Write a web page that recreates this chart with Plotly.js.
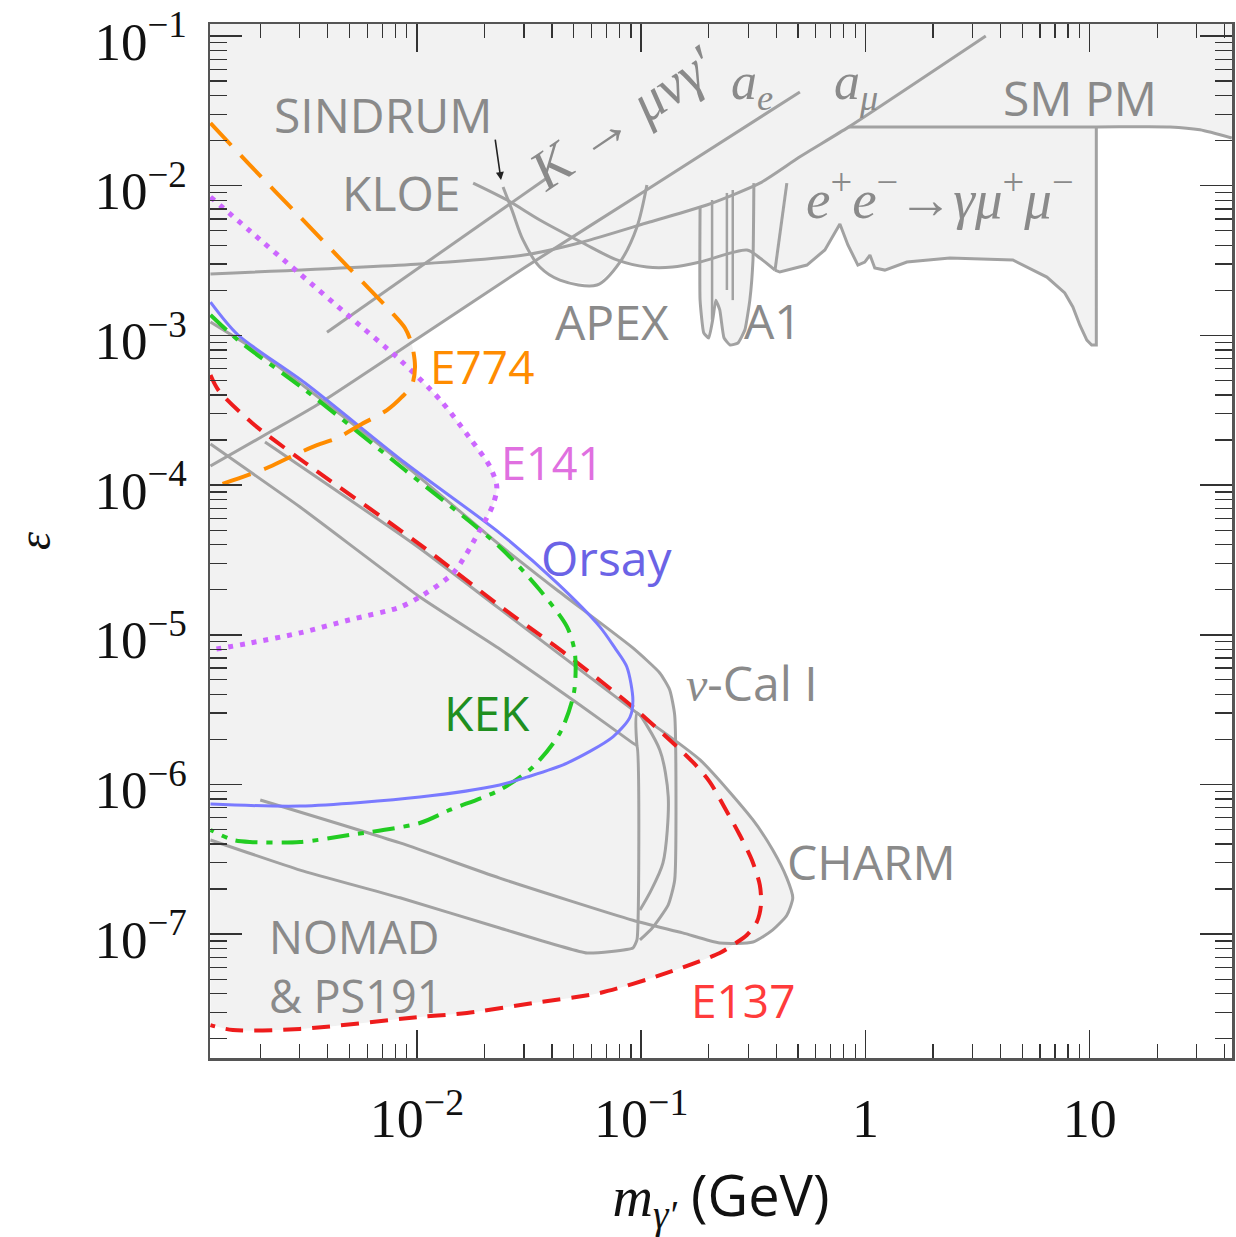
<!DOCTYPE html>
<html><head><meta charset="utf-8">
<script src="https://cdn.plot.ly/plotly-3.0.1.min.js"></script>
<style>html,body{margin:0;padding:0;background:#fff}#chart{width:1236px;height:1237px}</style>
</head><body><div id="chart"></div>
<script>
// ---------------- data (mass in GeV, epsilon) ----------------
const aeM   = [0.0012, 2.21e-3, 3.58e-3, 1.03e-2, 3.00e-2, 0.109, 0.510];
const aeEps = [1.34e-4, 2.26e-4, 3.43e-4, 9.75e-4, 2.82e-3, 9.65e-3, 4.23e-2];

const kmuM   = [3.97e-3, 3.84e-2];
const kmuEps = [1.05e-3, 1.14e-2];

const amuM   = [0.0012, 1.03e-2, 3.00e-2, 5.50e-2, 0.109, 0.196, 0.338, 0.510, 0.843, 3.44];
const amuEps = [2.57e-3, 3.00e-3, 3.44e-3, 4.21e-3, 5.72e-3, 7.43e-3, 1.04e-2, 1.56e-2, 2.47e-2, 0.1];

const kloeM   = [1.78e-2, 2.52e-2, 3.53e-2, 5.50e-2, 7.79e-2, 0.106, 0.138, 0.183, 0.296, 0.338, 0.395];
const kloeEps = [1.04e-2, 8.02e-3, 5.90e-3, 4.14e-3, 3.19e-3, 2.86e-3, 2.86e-3, 3.09e-3, 3.72e-3, 3.29e-3, 2.73e-3];

const babarM   = [0.395, 0.415, 0.548, 0.659, 0.769, 0.835, 0.925, 0.993, 1.047, 1.10, 1.22, 1.53, 2.38, 4.54, 6.44, 7.74, 8.41, 9.04, 9.71, 10.2, 10.7, 10.7];
const babarEps = [2.73e-3, 2.65e-3, 2.95e-3, 3.72e-3, 5.55e-3, 4.02e-3, 2.95e-3, 3.09e-3, 3.44e-3, 2.82e-3, 2.73e-3, 3.09e-3, 3.29e-3, 3.19e-3, 2.45e-3, 1.92e-3, 1.55e-3, 1.17e-3, 9.31e-4, 8.63e-4, 8.63e-4, 2.47e-2];
const babarEdgeM   = [0.395, 0.446];
const babarEdgeEps = [2.73e-3, 1.04e-2];

const smpmM   = [0.843, 10.7, 22.8, 31.0, 43.0];
const smpmEps = [2.47e-2, 2.47e-2, 2.47e-2, 2.36e-2, 2.08e-2];

const apexM   = [2.42e-2, 2.65e-2, 2.97e-2, 3.53e-2, 4.34e-2, 6.35e-2, 8.04e-2, 9.57e-2, 0.106];
const apexEps = [9.80e-3, 6.89e-3, 4.34e-3, 2.86e-3, 2.34e-3, 2.17e-3, 3.09e-3, 5.30e-3, 1.01e-2];

const a1M   = [0.183, 0.183, 0.190, 0.200, 0.209, 0.215, 0.224, 0.234, 0.249, 0.270, 0.290, 0.305, 0.315, 0.318];
const a1Eps = [7.21e-3, 1.72e-3, 1.04e-3, 9.61e-4, 1.31e-3, 1.72e-3, 1.48e-3, 9.61e-4, 8.63e-4, 8.90e-4, 1.09e-3, 1.72e-3, 3.19e-3, 1.04e-2];
const a1InnerM   = [0.207, 0.207, null, 0.241, 0.241, null, 0.256, 0.256];
const a1InnerEps = [8.02e-3, 1.27e-3, null, 8.94e-3, 2.01e-3, null, 9.36e-3, 1.72e-3];

// lower edge of the shaded region at the top of the plot
const upperEdgeM   = [0.0012, 2.21e-3, 3.58e-3, 1.03e-2, 3.00e-2, 3.39e-2, 3.53e-2, 4.34e-2, 6.35e-2, 8.04e-2, 0.106, 0.138, 0.183, 0.183, 0.190, 0.200, 0.209, 0.215, 0.224, 0.234, 0.249, 0.270, 0.290, 0.305, 0.3115, 0.338, 0.395, 0.415, 0.548, 0.659, 0.769, 0.835, 0.925, 0.993, 1.047, 1.10, 1.22, 1.53, 2.38, 4.54, 6.44, 7.74, 8.41, 9.04, 9.71, 10.2, 10.7, 10.7, 22.8, 31.0, 43.0];
const upperEdgeEps = [1.34e-4, 2.26e-4, 3.43e-4, 9.75e-4, 2.82e-3, 3.14e-3, 2.86e-3, 2.34e-3, 2.17e-3, 3.09e-3, 2.86e-3, 2.86e-3, 3.09e-3, 1.72e-3, 1.04e-3, 9.61e-4, 1.31e-3, 1.72e-3, 1.48e-3, 9.61e-4, 8.63e-4, 8.90e-4, 1.09e-3, 1.72e-3, 3.61e-3, 3.29e-3, 2.73e-3, 2.65e-3, 2.95e-3, 3.72e-3, 5.55e-3, 4.02e-3, 2.95e-3, 3.09e-3, 3.44e-3, 2.82e-3, 2.73e-3, 3.09e-3, 3.29e-3, 3.19e-3, 2.45e-3, 1.92e-3, 1.55e-3, 1.17e-3, 9.31e-4, 8.63e-4, 8.63e-4, 2.47e-2, 2.47e-2, 2.36e-2, 2.08e-2];

const e774M   = [0.0012, 1.80e-3, 3.01e-3, 5.02e-3, 7.59e-3, 8.84e-3, 9.50e-3, 9.80e-3, 9.50e-3, 8.57e-3, 7.35e-3, 5.57e-3, 4.40e-3, 3.58e-3, 2.72e-3, 2.14e-3, 1.77e-3, 0.0012];
const e774Eps = [2.62e-2, 1.37e-2, 6.18e-3, 2.78e-3, 1.46e-3, 1.12e-3, 8.63e-4, 6.15e-4, 4.67e-4, 3.88e-4, 3.17e-4, 2.52e-4, 2.06e-4, 1.85e-4, 1.54e-4, 1.30e-4, 1.17e-4, 9.57e-5];

const e141M   = [0.0012, 1.80e-3, 3.01e-3, 5.02e-3, 8.40e-3, 1.27e-2, 1.72e-2, 2.12e-2, 2.27e-2, 2.18e-2, 1.91e-2, 1.45e-2, 1.03e-2, 8.40e-3, 5.02e-3, 3.01e-3, 1.80e-3, 0.0012];
const e141Eps = [8.40e-3, 4.98e-3, 2.57e-3, 1.33e-3, 6.85e-4, 3.70e-4, 2.06e-4, 1.32e-4, 9.71e-5, 7.36e-5, 5.01e-5, 2.59e-5, 1.79e-5, 1.53e-5, 1.26e-5, 1.03e-5, 8.81e-6, 7.91e-6];

const orsayM   = [0.0012, 1.59e-3, 3.17e-3, 8.84e-3, 2.34e-2, 4.21e-2, 6.54e-2, 7.63e-2, 8.63e-2, 9.18e-2, 8.91e-2, 7.48e-2, 4.67e-2, 3.09e-2, 2.34e-2, 1.03e-2, 3.01e-3, 0.0012];
const orsayEps = [1.67e-3, 1.01e-3, 4.81e-4, 1.41e-4, 4.78e-5, 2.22e-5, 1.13e-5, 8.17e-6, 6.10e-6, 3.67e-6, 2.82e-6, 2.08e-6, 1.39e-6, 1.12e-6, 9.93e-7, 8.25e-7, 7.18e-7, 7.41e-7];

const kekM   = [0.0012, 1.59e-3, 3.17e-3, 8.84e-3, 2.34e-2, 3.53e-2, 4.67e-2, 5.06e-2, 5.01e-2, 4.34e-2, 3.29e-2, 2.34e-2, 1.40e-2, 1.03e-2, 5.02e-3, 3.01e-3, 1.80e-3, 1.51e-3, 0.0012];
const kekEps = [1.37e-3, 9.31e-4, 4.32e-4, 1.26e-4, 3.86e-5, 1.99e-5, 1.13e-5, 7.56e-6, 4.09e-6, 2.21e-6, 1.31e-6, 9.19e-7, 6.76e-7, 5.53e-7, 4.60e-7, 4.13e-7, 4.13e-7, 4.26e-7, 4.97e-7];

const e137M   = [0.0012, 1.30e-3, 1.84e-3, 3.17e-3, 1.01e-2, 2.34e-2, 3.53e-2, 4.67e-2, 9.18e-2, 0.170, 0.202, 0.236, 0.275, 0.3115, 0.338, 0.342, 0.328, 0.296, 0.256, 0.224, 0.130, 6.54e-2, 3.29e-2, 1.67e-2, 1.03e-2, 3.01e-3, 1.51e-3, 0.0012];
const e137Eps = [5.44e-4, 4.32e-4, 2.60e-4, 1.41e-4, 4.10e-5, 1.56e-5, 9.97e-6, 7.33e-6, 3.29e-6, 1.41e-6, 1.04e-6, 6.97e-7, 4.60e-7, 3.13e-7, 2.13e-7, 1.57e-7, 1.21e-7, 9.88e-8, 8.47e-8, 7.49e-8, 5.51e-8, 4.05e-8, 3.47e-8, 2.98e-8, 2.80e-8, 2.33e-8, 2.29e-8, 2.47e-8];

const nucalM   = [0.0012, 2.00e-3, 3.17e-3, 8.84e-3, 2.34e-2, 4.21e-2, 9.18e-2, 0.121, 0.134, 0.141, 0.141, 0.132, 0.112, 9.87e-2];
const nucalEps = [1.23e-3, 7.63e-4, 4.52e-4, 1.36e-4, 3.98e-5, 1.99e-5, 8.17e-6, 5.56e-6, 4.28e-6, 2.91e-6, 2.30e-7, 1.57e-7, 1.10e-7, 9.15e-8];

const charmM   = [2.10e-3, 1.01e-2, 2.34e-2, 9.18e-2, 0.183, 0.315, 0.386, 0.446, 0.474, 0.446, 0.386, 0.315, 0.224, 0.153, 9.18e-2, 2.34e-2, 8.40e-3, 2.00e-3];
const charmEps = [1.94e-4, 3.86e-5, 1.49e-5, 3.15e-6, 1.46e-6, 5.80e-7, 3.65e-7, 2.37e-7, 1.75e-7, 1.34e-7, 1.07e-7, 8.87e-8, 8.73e-8, 1.02e-7, 1.24e-7, 2.37e-7, 4.07e-7, 7.88e-7];

const nomadM   = [0.0012, 3.01e-3, 1.03e-2, 2.34e-2, 5.33e-2, 9.18e-2, 9.57e-2, 9.57e-2, 9.18e-2, 5.73e-2, 2.34e-2, 8.40e-3, 3.01e-3, 0.0012];
const nomadEps = [1.88e-4, 7.14e-5, 1.79e-5, 8.04e-6, 3.40e-6, 1.89e-6, 1.81e-6, 9.15e-8, 8.09e-8, 7.49e-8, 1.10e-7, 1.75e-7, 2.68e-7, 4.26e-7];

const innerM   = [9.57e-2, 9.57e-2, 0.121, 0.132, 0.125, 0.109, 9.87e-2];
const innerEps = [1.81e-6, 3.00e-6, 1.70e-6, 8.25e-7, 2.99e-7, 1.88e-7, 1.45e-7];

const xTickVals = [0.01, 0.1, 1, 10];
const xTickText = ['10<sup>\u22122</sup>', '10<sup>\u22121</sup>', '1', '10'];
const yTickVals = [1e-7, 1e-6, 1e-5, 1e-4, 1e-3, 1e-2, 1e-1];
const yTickText = ['10<sup>\u22127</sup>', '10<sup>\u22126</sup>', '10<sup>\u22125</sup>', '10<sup>\u22124</sup>', '10<sup>\u22123</sup>', '10<sup>\u22122</sup>', '10<sup>\u22121</sup>'];

// ---------------- styling / building ----------------
const GRAY = '#a2a2a2', SHADE = '#f2f2f2', TXT = '#8a8a8a';
const xRange = [Math.log10(0.001194), Math.log10(43.1)];
const yRange = [-7.827, -0.920];
const xMin = Math.pow(10, xRange[0]), xMax = Math.pow(10, xRange[1]), yTop = Math.pow(10, yRange[1]);

function fillT(m, e, smooth) {
  return {x: m, y: e, mode: 'none', fill: 'toself', fillcolor: SHADE, hoverinfo: 'skip', showlegend: false,
          line: smooth ? {shape: 'spline', smoothing: smooth} : {shape: 'linear'}};
}
function lineT(m, e, color, width, dash, smooth) {
  return {x: m, y: e, mode: 'lines', connectgaps: false, hoverinfo: 'skip', showlegend: false,
          line: {color: color, width: width, dash: dash || 'solid', shape: smooth ? 'spline' : 'linear', smoothing: smooth || 0}};
}

const traces = [
  fillT([xMin].concat(upperEdgeM, [xMax]), [yTop].concat(upperEdgeEps, [yTop])),
  fillT(e774M, e774Eps, 0.8), fillT(e141M, e141Eps, 0.8), fillT(orsayM, orsayEps, 0.8), fillT(kekM, kekEps, 0.8),
  fillT(e137M, e137Eps, 0.8), fillT(nucalM, nucalEps, 0.5), fillT(charmM, charmEps, 0.6), fillT(nomadM, nomadEps, 0.4),
  lineT(aeM, aeEps, GRAY, 3, 'solid', 0.6), lineT(kmuM, kmuEps, GRAY, 3), lineT(amuM, amuEps, GRAY, 3, 'solid', 0.6),
  lineT(kloeM, kloeEps, GRAY, 3, 'solid', 0.8), lineT(babarM, babarEps, GRAY, 3), lineT(babarEdgeM, babarEdgeEps, GRAY, 3),
  lineT(smpmM, smpmEps, GRAY, 3, 'solid', 0.6), lineT(apexM, apexEps, GRAY, 3, 'solid', 0.9), lineT(a1M, a1Eps, GRAY, 3, 'solid', 0.4),
  lineT(a1InnerM, a1InnerEps, GRAY, 2.5),
  lineT(nucalM, nucalEps, GRAY, 3, 'solid', 0.5), lineT(charmM, charmEps, GRAY, 3, 'solid', 0.6), lineT(nomadM, nomadEps, GRAY, 3, 'solid', 0.4),
  lineT(innerM, innerEps, GRAY, 3, 'solid', 0.8),
  lineT(e137M, e137Eps, '#ee1c1c', 4, '18px,11px', 0.8),
  lineT(kekM, kekEps, '#22cc22', 4, '22px,9px,6px,9px', 0.8),
  lineT(orsayM, orsayEps, '#7a7aff', 3, 'solid', 0.8),
  lineT(e141M, e141Eps, '#cc66ff', 5, '5px,7px', 0.8),
  lineT(e774M, e774Eps, '#ff8c00', 4, '30px,14px', 0.8)
];

const SANS = 'Open Sans, Noto Sans, sans-serif';
const SERIF = 'Liberation Serif, DejaVu Serif, serif';
function lab(text, xp, yp, color, opts) {
  opts = opts || {};
  return {text: text, xref: 'paper', yref: 'paper', x: xp, y: yp, showarrow: false,
    xanchor: opts.xanchor || 'center', yanchor: 'middle', align: opts.xanchor || 'center', textangle: opts.angle || 0,
    font: {family: opts.serif ? SERIF : SANS, size: opts.size || 48, color: color}};
}
const annotations = [
  lab('SINDRUM', 0.1693, 0.9120, TXT),
  lab('KLOE', 0.1869, 0.8375, TXT),
  lab('<i>K</i> \u2192 <i>\u03bc\u03bd\u03b3\u2032</i>', 0.4031, 0.9091, TXT, {serif: true, size: 56, angle: -34}),
  lab('<i>a</i><sub><i>e</i></sub>', 0.5303, 0.9410, TXT, {serif: true, size: 52}),
  lab('<i>a</i><sub><i>\u03bc</i></sub>', 0.6321, 0.9410, TXT, {serif: true, size: 52}),
  lab('SM PM', 0.8513, 0.9294, TXT),
  lab('<i>e</i><sup>+</sup><i>e</i><sup>\u2212</sup>\u2192<i>\u03b3\u03bc</i><sup>+</sup><i>\u03bc</i><sup>\u2212</sup>', 0.7143, 0.8346, TXT, {serif: true, size: 55}),
  lab('APEX', 0.3933, 0.7118, TXT),
  lab('A1', 0.5509, 0.7137, TXT),
  lab('E774', 0.2661, 0.6692, '#ff8c00', {size: 46}),
  lab('E141', 0.3346, 0.5764, '#e070e0', {size: 45}),
  lab('Orsay', 0.3885, 0.4845, '#6b63e6'),
  lab('<span style="font-family:Liberation Serif"><i>\u03bd</i></span>-Cal I', 0.5303, 0.3627, TXT),
  lab('KEK', 0.2710, 0.3337, '#1f8f1f'),
  lab('CHARM', 0.6477, 0.1896, TXT),
  lab('NOMAD<br>&amp; PS191', 0.0558, 0.0890, TXT, {xanchor: 'left', size: 45}),
  lab('E137', 0.5215, 0.0561, '#ff3b3b', {size: 46}),
  {text: '', x: Math.log10(2.37e-2), y: Math.log10(1.09e-2), xref: 'x', yref: 'y', showarrow: true,
   ax: -6, ay: -42, arrowhead: 2, arrowsize: 1, arrowwidth: 1.6, arrowcolor: '#222'}
];

const axisCommon = {
  type: 'log', tickmode: 'array', ticks: 'inside', tickwidth: 1.5, tickcolor: '#333',
  showline: true, linecolor: '#555', linewidth: 2.5, mirror: 'ticks', showgrid: false, zeroline: false,
  ticklabeloverflow: 'allow'
};
const layout = {
  width: 1236, height: 1237,
  margin: {l: 210, r: 4, t: 24, b: 179},
  paper_bgcolor: '#fff', plot_bgcolor: '#fff', showlegend: false,
  xaxis: Object.assign({}, axisCommon, {
    range: xRange, tickvals: xTickVals, ticktext: xTickText, ticklen: 28, ticklabelstandoff: 12,
    tickfont: {family: SERIF, size: 54, color: '#111'},
    minor: {ticks: 'inside', ticklen: 14, tickwidth: 1.3, tickcolor: '#333', dtick: 'D1', showgrid: false},
    title: {text: '<i>m</i><sub><i>\u03b3\u2032</i></sub> <span style="font-family:Open Sans">(GeV)</span>',
            font: {family: SERIF, size: 56, color: '#111'}, standoff: 36}
  }),
  yaxis: Object.assign({}, axisCommon, {
    range: yRange, tickvals: yTickVals, ticktext: yTickText, ticklen: 32, ticklabelstandoff: 10, ticklabelshift: 5,
    tickfont: {family: SERIF, size: 53, color: '#111'},
    minor: {ticks: 'inside', ticklen: 17, tickwidth: 1.3, tickcolor: '#333', dtick: 'D1', showgrid: false},
    title: {text: '<i>\u03b5</i>', font: {family: SERIF, size: 46, color: '#111'}, standoff: 30}
  }),
  annotations: annotations
};
Plotly.newPlot('chart', traces, layout, {staticPlot: true, displayModeBar: false});
</script></body></html>
